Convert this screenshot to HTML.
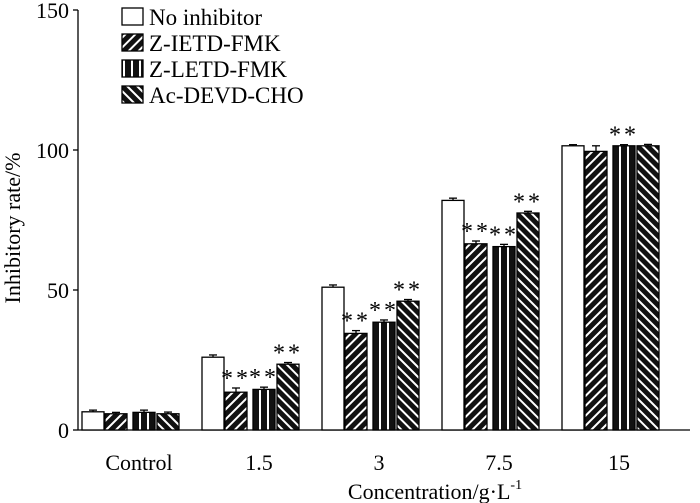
<!DOCTYPE html>
<html><head><meta charset="utf-8"><style>
body{margin:0;background:#fff}
svg{display:block;font-family:"Liberation Serif",serif}
</style></head><body>
<svg id="c" width="700" height="503">
<defs>
<pattern id="p1" width="7" height="7" patternUnits="userSpaceOnUse" patternTransform="rotate(45)"><rect width="7" height="7" fill="#111"/><rect x="0" width="2" height="7" fill="#fff"/></pattern>
<pattern id="p2" width="8" height="8" patternUnits="userSpaceOnUse"><rect width="8" height="8" fill="#111"/><rect x="3" width="2" height="8" fill="#fff"/></pattern>
<pattern id="p3" width="7" height="7" patternUnits="userSpaceOnUse" patternTransform="rotate(-45)"><rect width="7" height="7" fill="#111"/><rect x="0" width="2" height="7" fill="#fff"/></pattern>
</defs>
<g id="g"></g>
</svg>
<script>
const categories=["Control","1.5","3","7.5","15"];
const seriesNames=["No inhibitor","Z-IETD-FMK","Z-LETD-FMK","Ac-DEVD-CHO"];
const noInhibitor=[6.5,26,51,82,101.5];
const zIETD=[5.8,13.5,34.5,66.5,99.5];
const zLETD=[6.3,14.5,38.5,65.5,101.5];
const acDEVD=[5.8,23.5,46,77.5,101.5];
const errors=[[0.6,0.8,0.8,0.8,0.4],[0.5,1.5,1.0,1.0,2.0],[0.8,0.8,0.8,0.8,0.4],[0.6,0.6,0.6,0.6,0.5]];
const sig=[[0,0,0,0,0],[0,1,1,1,0],[0,1,1,1,1],[0,1,1,1,0]];
const yTicks=[0,50,100,150];
const series=[noInhibitor,zIETD,zLETD,acDEVD];
const fills=["#fff","url(#p1)","url(#p2)","url(#p3)"];
const ns="http://www.w3.org/2000/svg";
const g=document.getElementById('g');
const y0=430,yTop=10;
function y(v){return y0-(v/150)*(y0-yTop);}
function gx(i){return 82+i*120;}
const offs=[0,23,51,75],bw=22;
function mk(t,a,p){const e=document.createElementNS(ns,t);for(const k in a)e.setAttribute(k,a[k]);(p||g).appendChild(e);return e;}
let ax=mk('line',{x1:78,y1:y0,x2:690,y2:y0,stroke:'#000','stroke-width':1.3});


let ay=mk('line',{x1:78,y1:yTop,x2:78,y2:y0,stroke:'#000','stroke-width':1.3});


yTicks.forEach(v=>{
 mk('line',{x1:73,x2:78,y1:y(v),y2:y(v),stroke:'#000','stroke-width':1.3});
 let t=mk('text',{x:69,y:y(v)+8,'text-anchor':'end','font-size':22});t.textContent=v;
 
 
});
categories.forEach((c,i)=>{
 let t=mk('text',{x:gx(i)+57,y:470,'text-anchor':'middle','font-size':22});t.textContent=c;
 
 
 series.forEach((s,j)=>{
  const x=gx(i)+offs[j],top=y(s[i]);
  let r=mk('rect',{x:x,y:top,width:bw,height:y0-top,fill:fills[j],stroke:'#000','stroke-width':1.3});
  
  
  const et=y(s[i]+errors[j][i]);
  mk('line',{x1:x+bw/2,x2:x+bw/2,y1:top,y2:et,stroke:'#000','stroke-width':1.3});
  mk('line',{x1:x+bw/2-4,x2:x+bw/2+4,y1:et,y2:et,stroke:'#000','stroke-width':1.3});
  if(sig[j][i]){let a=mk('text',{x:x+bw/2,y:et-2,'text-anchor':'middle','font-size':24,'letter-spacing':3});a.textContent='**';
   
   }
 });
});
let yt=mk('text',{x:0,y:0,'text-anchor':'middle','font-size':22,transform:'translate(20,228) rotate(-90)'});yt.textContent='Inhibitory rate/%';


let xt=mk('text',{x:435,y:499,'text-anchor':'middle','font-size':22});xt.innerHTML='Concentration/g·L<tspan font-size="14" dy="-10">-1</tspan>';


seriesNames.forEach((n,j)=>{
 const ly=8+j*26;
 let b=mk('rect',{x:122,y:ly,width:21,height:17,fill:fills[j],stroke:'#000','stroke-width':1.3});
 
 
 let t=mk('text',{x:149,y:ly+17,'font-size':23});t.textContent=n;
 
 
});
</script>
</body></html>
